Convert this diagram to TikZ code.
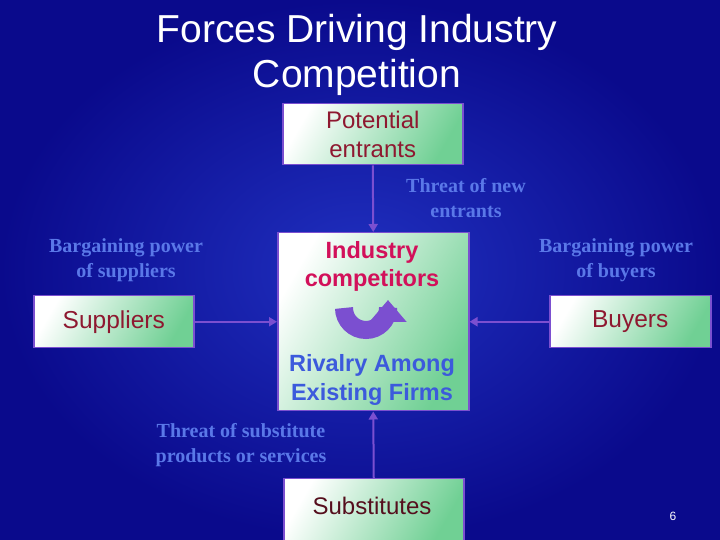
\documentclass[tikz,border=0pt]{standalone}
\usepackage{fontspec}
\setmainfont{Liberation Sans}
\newfontfamily\serifb{Liberation Serif}
\usetikzlibrary{arrows.meta}
\definecolor{bgA}{HTML}{0A0A8C}
\definecolor{bgB}{HTML}{2030C0}
\definecolor{pur}{HTML}{7B4FD0}
\definecolor{lbl}{HTML}{5A78E8}
\definecolor{dred}{HTML}{8E1830}
\definecolor{gr}{HTML}{40C070}
\tikzset{
 box/.style={draw=pur, line width=1.5pt, shading=axis, left color=white, right color=gr!75, shading angle=60, minimum width=#1, inner sep=0pt},
 lab/.style={text=lbl, font=\serifb\bfseries\fontsize{20}{25}\selectfont, align=center},
 conn/.style={draw=pur, line width=2pt, -{Triangle[width=9pt,length=8pt]}}
}
\begin{document}
\begin{tikzpicture}[x=1pt,y=1pt]
\useasboundingbox (0,0) rectangle (720,540);
\shade[inner color=bgB, outer color=bgA] (0,0) rectangle (720,540);
\node[text=white, font=\fontsize{39}{45}\selectfont, align=center] (title) at (357,485) {Forces Driving Industry\\Competition};
\node[box=180pt, minimum height=61pt, anchor=north west] (pe) at (282,437) {};
\node[text=dred, font=\fontsize{24}{29}\selectfont, align=center] (pet) at (pe.center) {Potential\\entrants};
\node[box=191pt, minimum height=178pt, anchor=north west] (ic) at (277,308) {};
\node[text={rgb,255:red,210;green,16;blue,90}, font=\bfseries\fontsize{23.5}{28}\selectfont, align=center] (ict) at (372,274) {Industry\\competitors};
\node[text={rgb,255:red,60;green,90;blue,220}, font=\bfseries\fontsize{23.5}{29}\selectfont, align=center] (rv) at (372,160) {Rivalry Among\\Existing Firms};
\node[box=160pt, minimum height=52pt, anchor=north west, text=dred, font=\fontsize{24.5}{29}\selectfont] (sup) at (33,245) {Suppliers};
\node[box=161pt, minimum height=52pt, anchor=north west, text=dred, font=\fontsize{24.5}{29}\selectfont] (buy) at (549,245) {Buyers};
\node[box=180pt, minimum height=62pt, anchor=north west] (sub) at (283,62) {};
\node[text=dred!60!black, font=\fontsize{24}{29}\selectfont] (subt) at (372,34) {Substitutes};
\node[lab] (l1) at (466,342) {Threat of new\\entrants};
\node[lab] (l2) at (126,280) {Bargaining power\\of suppliers};
\node[lab] (l3) at (616,280) {Bargaining power\\of buyers};
\node[lab] (l4) at (241,95) {Threat of substitute\\products or services};
\node[text=white, font=\fontsize{12}{14}\selectfont] (pg) at (673,24) {6};
\draw[conn] (pe.south) -- (ic.north);
\draw[conn] (sup.east) -- (sup.east -| ic.west);
\draw[conn] (buy.west) -- (buy.west -| ic.east);
\draw[conn] (sub.north) -- (ic.south);
\coordinate (ua) at (344,232);
\draw[pur, line width=18pt, -{Triangle[width=36pt,length=22pt]}] (ua) arc[start angle=180,end angle=360,radius=22] -- ++(0,8);
\end{tikzpicture}
\end{document}
